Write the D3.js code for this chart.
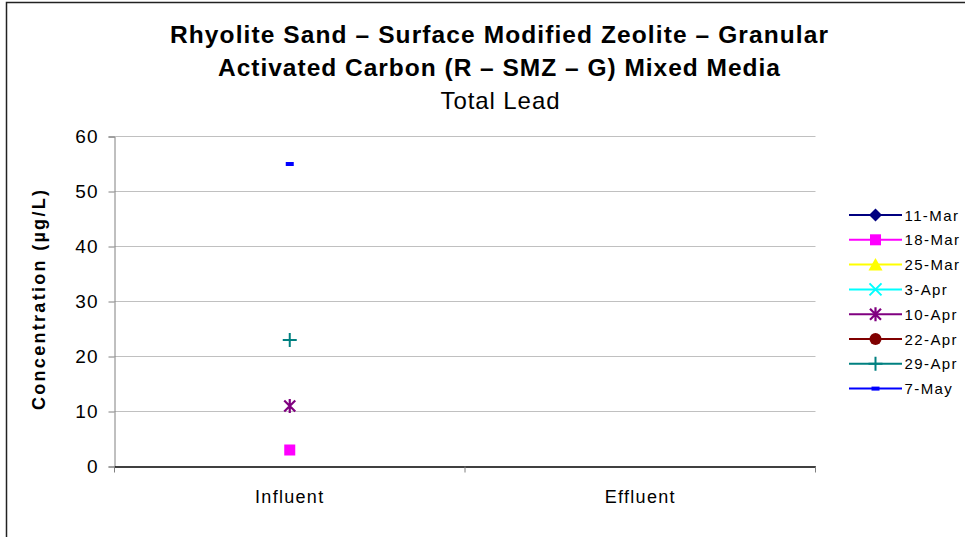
<!DOCTYPE html>
<html><head><meta charset="utf-8">
<script src="https://cdn.jsdelivr.net/npm/d3@7"></script>
<style>body{margin:0;background:#fff;overflow:hidden}text{font-family:"Liberation Sans",Arial,sans-serif}</style>
</head><body>
<svg id="c" width="965" height="537"></svg>
<script>
const categories = ["Influent", "Effluent"];
const seriesNames = ["11-Mar", "18-Mar", "25-Mar", "3-Apr", "10-Apr", "22-Apr", "29-Apr", "7-May"];
const seriesColors = ["#000080", "#FF00FF", "#FFFF00", "#00FFFF", "#800080", "#800000", "#008080", "#0000FF"];
const seriesMarkers = ["diamond", "square", "triangle", "x", "asterisk", "circle", "plus", "dash"];
const influentValues = [null, 3, null, null, 11, null, 23, 55];
const effluentValues = [null, null, null, null, null, null, null, null];
const yTicks = [0, 10, 20, 30, 40, 50, 60];
const titleLines = ["Rhyolite Sand \u2013 Surface Modified Zeolite \u2013 Granular", "Activated Carbon (R \u2013 SMZ \u2013 G) Mixed Media"];
const subtitle = "Total Lead";
const yLabel = "Concentration (\u00b5g/L)";

const svg = d3.select("#c");
const FF = "Liberation Sans, Arial, sans-serif";
// outer chart border
svg.append("rect").attr("x", 6.5).attr("y", 2.5).attr("width", 1000).attr("height", 600)
  .attr("fill", "none").attr("stroke", "#222").attr("stroke-width", 1.5);

const L = 114.5, R = 815.5, T = 136.5, B = 466.5;
const x = d3.scaleBand().domain(categories).range([L, R]);
const y = d3.scaleLinear().domain([0, 60]).range([B, T]);

// gridlines
svg.append("g").selectAll("line").data(yTicks.filter(d => d > 0)).join("line")
  .attr("x1", L).attr("x2", R).attr("y1", d => y(d)).attr("y2", d => y(d))
  .attr("stroke", "#c0c0c0").attr("stroke-width", 1);

// y axis
const ya = svg.append("g").attr("transform", `translate(${L},0)`)
  .call(d3.axisLeft(y).tickValues(yTicks).tickSize(6).tickPadding(10).tickFormat(d3.format("d")));
ya.select(".domain").attr("stroke", "#808080");
ya.selectAll(".tick line").attr("stroke", "#808080");
ya.selectAll("text").attr("font-size", 19).attr("letter-spacing", 1).attr("fill", "#000").attr("font-family", FF);

// x axis
const xa = svg.append("g").attr("transform", `translate(0,${B})`)
  .call(d3.axisBottom(x).tickSize(0).tickPadding(23.5));
xa.select(".domain").attr("stroke", "#000").attr("stroke-width", 1.3);
xa.selectAll("text").attr("font-size", 18).attr("letter-spacing", 1.3).attr("fill", "#000").attr("font-family", FF);
// category boundary ticks
const bounds = [L, x("Effluent"), R];
xa.selectAll(".bt").data(bounds).join("line").attr("class", "bt")
  .attr("x1", d => d).attr("x2", d => d).attr("y1", 0).attr("y2", 6).attr("stroke", "#808080");

// titles
const tg = svg.append("g").attr("text-anchor", "middle").attr("fill", "#000");
const titleWidths = [658, 562];
titleLines.forEach((t, i) => tg.append("text").attr("x", 499).attr("y", 43 + i * 33)
  .attr("font-size", 24.5).attr("font-weight", "bold")
  .attr("textLength", titleWidths[i]).attr("lengthAdjust", "spacing").text(t));
tg.append("text").attr("x", 500).attr("y", 109).attr("font-size", 24)
  .attr("textLength", 119).attr("lengthAdjust", "spacing").text(subtitle);

// y label
svg.append("text").attr("transform", "translate(44.5,300) rotate(-90)").attr("text-anchor", "middle")
  .attr("font-size", 18).attr("font-weight", "bold")
  .attr("textLength", 220).attr("lengthAdjust", "spacing").text(yLabel);

function marker(g, type, color) {
  switch (type) {
    case "diamond": g.append("path").attr("d", "M0,-6.5L6.5,0L0,6.5L-6.5,0Z").attr("fill", color); break;
    case "square": g.append("rect").attr("x", -5.5).attr("y", -5.5).attr("width", 11).attr("height", 11).attr("fill", color); break;
    case "triangle": g.append("path").attr("d", "M0,-6.5L7,6L-7,6Z").attr("fill", color); break;
    case "x": g.append("path").attr("d", "M-6,-6L6,6M-6,6L6,-6").attr("stroke", color).attr("stroke-width", 2).attr("fill", "none"); break;
    case "asterisk": g.append("path").attr("d", "M-5.5,-5.5L5.5,5.5M-5.5,5.5L5.5,-5.5M0,-7L0,7").attr("stroke", color).attr("stroke-width", 2.2).attr("fill", "none"); break;
    case "circle": g.append("circle").attr("r", 6).attr("fill", color); break;
    case "plus": g.append("path").attr("d", "M-7,0L7,0M0,-7L0,7").attr("stroke", color).attr("stroke-width", 2).attr("fill", "none"); break;
    case "dash": g.append("rect").attr("x", -4).attr("y", -2).attr("width", 8).attr("height", 4).attr("fill", color); break;
  }
}

// data points
const valuesByCat = [influentValues, effluentValues];
seriesNames.forEach((s, i) => {
  categories.forEach((c, ci) => {
    const v = valuesByCat[ci][i];
    if (v == null) return;
    const g = svg.append("g").attr("transform", `translate(${x(c) + x.bandwidth() / 2},${y(v)})`);
    marker(g, seriesMarkers[i], seriesColors[i]);
  });
});

// legend
const lg = svg.append("g").attr("transform", "translate(849,215)");
seriesNames.forEach((s, i) => {
  const g = lg.append("g").attr("transform", `translate(0,${i * 24.8})`);
  g.append("line").attr("x1", 0).attr("x2", 53).attr("y1", 0).attr("y2", 0).attr("stroke", seriesColors[i]).attr("stroke-width", 2);
  const m = g.append("g").attr("transform", "translate(26.5,0)");
  marker(m, seriesMarkers[i], seriesColors[i]);
  g.append("text").attr("x", 55.5).attr("y", 5.5).attr("font-size", 15).attr("letter-spacing", 1.4).attr("fill", "#000").text(s);
});
</script>
</body></html>
